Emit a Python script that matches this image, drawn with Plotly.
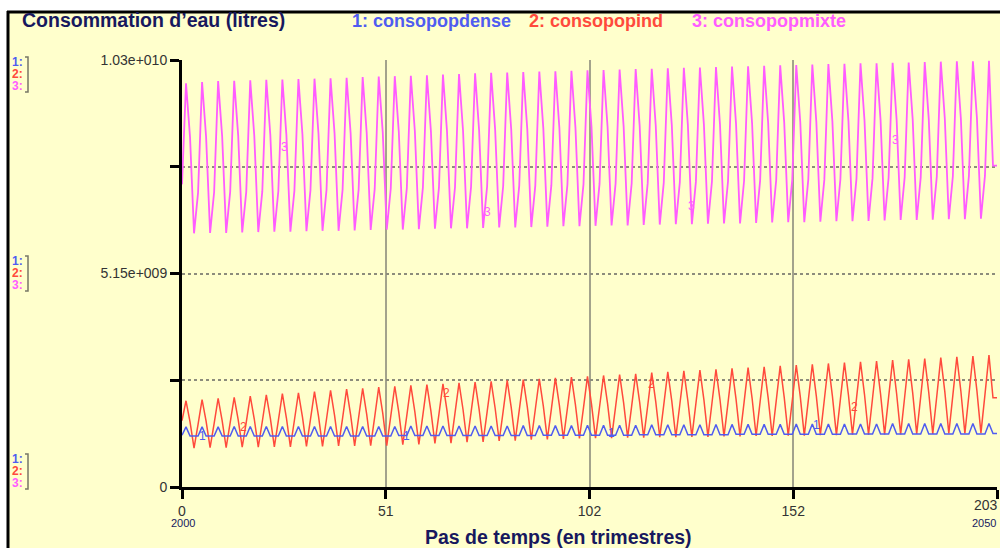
import numpy as np
import plotly.graph_objects as go

# ---------------- data (values in billions of litres, one per quarter) -------------
consopopmixte = [
    7.30,
    9.74, 8.44, 6.12, 7.10,
    9.77, 8.45, 6.13, 7.11,
    9.79, 8.46, 6.13, 7.12,
    9.80, 8.47, 6.14, 7.12,
    9.81, 8.48, 6.15, 7.13,
    9.82, 8.49, 6.16, 7.14,
    9.83, 8.50, 6.16, 7.15,
    9.84, 8.51, 6.17, 7.16,
    9.85, 8.52, 6.18, 7.17,
    9.86, 8.53, 6.18, 7.17,
    9.87, 8.54, 6.19, 7.18,
    9.89, 8.55, 6.20, 7.19,
    9.90, 8.56, 6.21, 7.20,
    9.91, 8.57, 6.21, 7.21,
    9.92, 8.58, 6.22, 7.22,
    9.93, 8.58, 6.23, 7.22,
    9.95, 8.59, 6.24, 7.23,
    9.96, 8.60, 6.24, 7.24,
    9.98, 8.61, 6.25, 7.25,
    9.99, 8.62, 6.26, 7.26,
    10.00, 8.63, 6.26, 7.27,
    10.01, 8.64, 6.27, 7.27,
    10.02, 8.65, 6.28, 7.28,
    10.03, 8.66, 6.29, 7.29,
    10.04, 8.67, 6.29, 7.30,
    10.05, 8.68, 6.30, 7.31,
    10.06, 8.69, 6.31, 7.32,
    10.07, 8.70, 6.31, 7.32,
    10.08, 8.71, 6.32, 7.33,
    10.09, 8.72, 6.33, 7.34,
    10.10, 8.73, 6.34, 7.35,
    10.11, 8.74, 6.34, 7.36,
    10.12, 8.74, 6.35, 7.37,
    10.13, 8.75, 6.36, 7.37,
    10.14, 8.76, 6.36, 7.38,
    10.15, 8.77, 6.37, 7.39,
    10.16, 8.78, 6.38, 7.40,
    10.17, 8.79, 6.39, 7.41,
    10.18, 8.80, 6.39, 7.42,
    10.19, 8.81, 6.40, 7.42,
    10.20, 8.82, 6.41, 7.43,
    10.21, 8.83, 6.41, 7.44,
    10.22, 8.84, 6.42, 7.45,
    10.22, 8.85, 6.43, 7.46,
    10.23, 8.86, 6.44, 7.47,
    10.24, 8.87, 6.44, 7.47,
    10.25, 8.88, 6.45, 7.48,
    10.26, 8.89, 6.46, 7.49,
    10.27, 8.89, 6.46, 7.50,
    10.27, 8.90, 6.47, 7.51,
    10.28, 7.75, 7.75,
]

consopopind = [
    1.60,
    2.08, 1.57, 0.94, 1.51,
    2.11, 1.59, 0.95, 1.53,
    2.14, 1.60, 0.95, 1.55,
    2.16, 1.62, 0.96, 1.56,
    2.19, 1.64, 0.96, 1.58,
    2.22, 1.66, 0.97, 1.60,
    2.25, 1.67, 0.97, 1.61,
    2.27, 1.69, 0.98, 1.63,
    2.30, 1.71, 0.98, 1.64,
    2.33, 1.73, 0.99, 1.66,
    2.36, 1.74, 0.99, 1.68,
    2.38, 1.76, 1.00, 1.69,
    2.41, 1.78, 1.00, 1.71,
    2.43, 1.80, 1.02, 1.73,
    2.45, 1.81, 1.03, 1.74,
    2.47, 1.83, 1.05, 1.76,
    2.49, 1.85, 1.06, 1.78,
    2.51, 1.87, 1.08, 1.80,
    2.53, 1.88, 1.09, 1.81,
    2.55, 1.90, 1.11, 1.83,
    2.57, 1.92, 1.12, 1.85,
    2.59, 1.94, 1.14, 1.87,
    2.61, 1.95, 1.15, 1.88,
    2.63, 1.97, 1.16, 1.90,
    2.65, 1.98, 1.17, 1.91,
    2.67, 2.00, 1.18, 1.93,
    2.69, 2.01, 1.18, 1.94,
    2.71, 2.03, 1.19, 1.95,
    2.73, 2.04, 1.19, 1.96,
    2.76, 2.06, 1.20, 1.98,
    2.78, 2.07, 1.20, 1.99,
    2.80, 2.08, 1.21, 2.01,
    2.82, 2.10, 1.21, 2.02,
    2.84, 2.11, 1.22, 2.03,
    2.86, 2.12, 1.22, 2.04,
    2.88, 2.14, 1.23, 2.06,
    2.90, 2.15, 1.23, 2.07,
    2.92, 2.16, 1.24, 2.08,
    2.94, 2.18, 1.24, 2.09,
    2.96, 2.19, 1.25, 2.11,
    2.98, 2.20, 1.25, 2.12,
    3.00, 2.22, 1.26, 2.13,
    3.02, 2.23, 1.26, 2.14,
    3.04, 2.24, 1.27, 2.16,
    3.06, 2.25, 1.27, 2.17,
    3.08, 2.27, 1.28, 2.18,
    3.10, 2.28, 1.28, 2.19,
    3.12, 2.30, 1.29, 2.21,
    3.14, 2.31, 1.29, 2.22,
    3.16, 2.32, 1.30, 2.23,
    3.18, 2.15, 2.15,
]

consopopdense = [
    1.25,
    1.45, 1.23, 1.23, 1.23,
    1.45, 1.23, 1.23, 1.23,
    1.45, 1.23, 1.23, 1.23,
    1.46, 1.23, 1.23, 1.23,
    1.46, 1.23, 1.23, 1.23,
    1.46, 1.23, 1.23, 1.23,
    1.46, 1.23, 1.23, 1.23,
    1.46, 1.23, 1.23, 1.23,
    1.46, 1.23, 1.23, 1.23,
    1.46, 1.23, 1.23, 1.23,
    1.46, 1.23, 1.23, 1.23,
    1.46, 1.23, 1.23, 1.23,
    1.46, 1.23, 1.23, 1.23,
    1.46, 1.24, 1.24, 1.24,
    1.47, 1.24, 1.24, 1.24,
    1.47, 1.24, 1.24, 1.24,
    1.47, 1.24, 1.24, 1.24,
    1.47, 1.24, 1.24, 1.24,
    1.47, 1.24, 1.24, 1.24,
    1.47, 1.24, 1.24, 1.24,
    1.47, 1.24, 1.24, 1.24,
    1.48, 1.24, 1.24, 1.24,
    1.48, 1.25, 1.25, 1.25,
    1.48, 1.25, 1.25, 1.25,
    1.48, 1.25, 1.25, 1.25,
    1.49, 1.25, 1.25, 1.25,
    1.49, 1.25, 1.25, 1.25,
    1.49, 1.25, 1.25, 1.25,
    1.49, 1.26, 1.26, 1.26,
    1.50, 1.26, 1.26, 1.26,
    1.50, 1.26, 1.26, 1.26,
    1.50, 1.26, 1.26, 1.26,
    1.50, 1.26, 1.26, 1.26,
    1.51, 1.26, 1.26, 1.26,
    1.51, 1.27, 1.27, 1.27,
    1.51, 1.27, 1.27, 1.27,
    1.51, 1.27, 1.27, 1.27,
    1.51, 1.27, 1.27, 1.27,
    1.52, 1.27, 1.27, 1.27,
    1.52, 1.27, 1.27, 1.27,
    1.52, 1.27, 1.27, 1.27,
    1.52, 1.28, 1.28, 1.28,
    1.52, 1.28, 1.28, 1.28,
    1.52, 1.28, 1.28, 1.28,
    1.53, 1.28, 1.28, 1.28,
    1.53, 1.28, 1.28, 1.28,
    1.53, 1.28, 1.28, 1.28,
    1.53, 1.28, 1.28, 1.28,
    1.53, 1.28, 1.28, 1.28,
    1.53, 1.28, 1.28, 1.28,
    1.53, 1.29, 1.29,
]

x_tick_values = [0, 50.75, 101.5, 152.25, 203]
x_tick_labels = ["0", "51", "102", "152", "203"]
y_tick_values = [0, 2.575e9, 5.15e9, 7.725e9, 10.3e9]
y_tick_labels = ["0", "", "5.15e+009", "", "1.03e+010"]

series_names = ["consopopdense", "consopopind", "consopopmixte"]
series_colors = ["#4f5cf0", "#ff4a3c", "#ff5cff"]
series_widths = [1.5, 1.5, 1.8]

# line-number labels (time, value in billions)
label_dense = [(5, 1.23), (56, 1.23), (107, 1.30), (158, 1.50)]
label_ind = [(15.2, 1.45), (66, 2.27), (117, 2.48), (167.6, 1.93)]
label_mixte = [(25.5, 8.20), (76, 6.63), (127, 6.78), (177.6, 8.37)]

# ---------------- figure -------------
W, H = 1000, 548
L, R, T, B = 182, 997, 60, 487  # plot area in page pixels


def px(xp):
    return (xp - L) / (R - L)


def py(yp):
    return (B - yp) / (B - T)


BG = "#FFFFCC"
FONT = "Liberation Sans, Arial, sans-serif"
NAVY = "#17185e"
TICKC = "#333333"

fig = go.Figure()
t = np.arange(len(consopopmixte))
draw_order = [(1, consopopind), (0, consopopdense), (2, consopopmixte)]
for idx, vals in draw_order:
    fig.add_trace(go.Scatter(
        x=t, y=np.array(vals) * 1e9, mode="lines", name=series_names[idx],
        line=dict(color=series_colors[idx], width=series_widths[idx]), hoverinfo="skip"))

annotations = []
for idx, labs, txt in [(0, label_dense, "1"), (1, label_ind, "2"), (2, label_mixte, "3")]:
    for (lx, ly) in labs:
        annotations.append(dict(x=lx, y=ly * 1e9, xref="x", yref="y", text=txt,
                                showarrow=False, font=dict(family=FONT, size=12,
                                                           color=series_colors[idx])))

# title and legend texts
annotations.append(dict(x=px(20), y=py(20), xref="paper", yref="paper",
                        text="<b>Consommation d’eau (litres)</b>", showarrow=False,
                        xanchor="left", yanchor="middle",
                        font=dict(family=FONT, size=19.5, color=NAVY)))
leg_x = [350, 527, 690]
for i in range(3):
    annotations.append(dict(x=px(leg_x[i]), y=py(21), xref="paper", yref="paper",
                            text="<b>%d: %s</b>" % (i + 1, series_names[i]),
                            showarrow=False, xanchor="left", yanchor="middle",
                            font=dict(family=FONT, size=18, color=series_colors[i])))

# last x tick label sits against the right edge of the window
annotations.append(dict(x=x_tick_values[-1], y=py(505), xref="x", yref="paper",
                        text=x_tick_labels[-1], showarrow=False, xanchor="right",
                        yanchor="middle", xshift=3,
                        font=dict(family=FONT, size=14, color=TICKC)))

# x axis title and year labels
annotations.append(dict(x=px(558), y=py(537), xref="paper", yref="paper",
                        text="<b>Pas de temps (en trimestres)</b>", showarrow=False,
                        xanchor="center", yanchor="middle",
                        font=dict(family=FONT, size=19.5, color=NAVY)))
annotations.append(dict(x=px(183), y=py(523), xref="paper", yref="paper", text="2000",
                        showarrow=False, xanchor="center", yanchor="middle",
                        font=dict(family=FONT, size=11, color=NAVY)))
annotations.append(dict(x=px(998), y=py(523), xref="paper", yref="paper", text="2050",
                        showarrow=False, xanchor="right", yanchor="middle",
                        font=dict(family=FONT, size=11, color=NAVY)))

# scale indicator stacks on the left
shapes = []
for top in [57, 256, 454]:
    for i in range(3):
        annotations.append(dict(x=px(25), y=py(top + 5 + i * 12), xref="paper", yref="paper",
                                text="<b>%d:</b>" % (i + 1), showarrow=False,
                                xanchor="right", yanchor="middle",
                                font=dict(family=FONT, size=12, color=series_colors[i])))
    shapes.append(dict(type="path", xref="paper", yref="paper",
                       path="M %f,%f L %f,%f L %f,%f L %f,%f" % (
                           px(25), py(top), px(28), py(top), px(28), py(top + 35),
                           px(25), py(top + 35)),
                       line=dict(color="#777766", width=1.5)))

# outer frame
shapes.append(dict(type="rect", xref="paper", yref="paper", x0=px(-5), x1=px(1005),
                   y0=py(11), y1=py(-5), fillcolor="white", line=dict(width=0)))
shapes.append(dict(type="rect", xref="paper", yref="paper", x0=px(-5), x1=px(7),
                   y0=py(560), y1=py(-5), fillcolor="white", line=dict(width=0)))
shapes.append(dict(type="line", xref="paper", yref="paper", x0=px(7), x1=px(1005),
                   y0=py(12), y1=py(12), line=dict(color="black", width=3)))
shapes.append(dict(type="line", xref="paper", yref="paper", x0=px(8), x1=px(8),
                   y0=py(11), y1=py(560), line=dict(color="black", width=3)))

fig.update_layout(
    width=W, height=H, autosize=False,
    margin=dict(l=L, r=W - R, t=T, b=H - B, pad=0),
    paper_bgcolor=BG, plot_bgcolor=BG,
    showlegend=False,
    font=dict(family=FONT, color=TICKC),
    annotations=annotations,
    shapes=shapes,
    xaxis=dict(range=[0, 203], tickmode="array", tickvals=x_tick_values,
               ticktext=x_tick_labels[:-1] + [""], showgrid=True, gridcolor="#a3a38c",
               gridwidth=2, zeroline=False, showline=True, linecolor="black", linewidth=3,
               ticks="outside", ticklen=9, tickwidth=3, tickcolor="black",
               tickfont=dict(family=FONT, size=14, color=TICKC), fixedrange=True),
    yaxis=dict(range=[0, 10.3e9], tickmode="array", tickvals=y_tick_values,
               ticktext=y_tick_labels, showgrid=True, gridcolor="#8c8c7c", gridwidth=1.5,
               griddash="dot", zeroline=False, showline=True, linecolor="black",
               linewidth=3, ticks="outside", ticklen=9, tickwidth=3, tickcolor="black",
               tickfont=dict(family=FONT, size=14, color=TICKC), fixedrange=True),
)

# remove the page's default body margin so the figure fills the window exactly
page_fix = ("document.body.style.margin='0';document.body.style.padding='0';"
            "document.body.style.overflow='hidden';"
            "document.documentElement.style.overflow='hidden';")

fig.write_html("out.html", config={"displayModeBar": False}, post_script=page_fix)
